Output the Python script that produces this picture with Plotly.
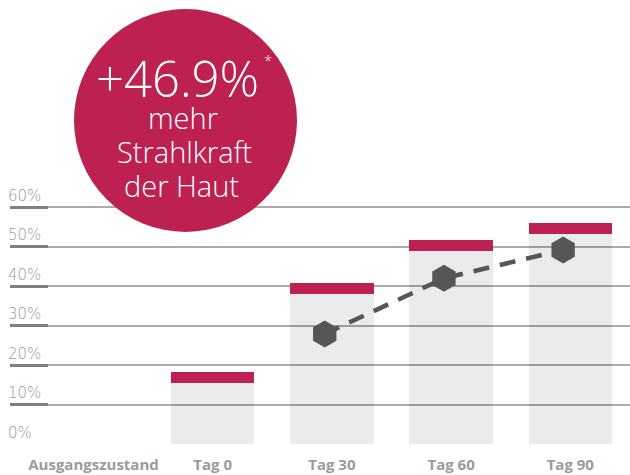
import plotly.graph_objects as go

# ---- data ----
categories = ["Ausgangszustand", "Tag 0", "Tag 30", "Tag 60", "Tag 90"]
bar_base_values = [None, 15.4, 38.0, 48.9, 53.2]   # grey column height (%)
bar_top_values = [None, 18.3, 40.8, 51.6, 55.9]    # top of crimson cap (%)
marker_values = [None, None, 27.9, 42.0, 49.2]     # hexagon line (%)
y_tick_values = [0, 10, 20, 30, 40, 50, 60]
y_tick_labels = ["0%", "10%", "20%", "30%", "40%", "50%", "60%"]
headline = "+46.9%"
headline_lines = ["mehr", "Strahlkraft", "der Haut"]

CRIMSON = "#bc2152"
DARK = "#565656"
W, H = 630, 475
ML, MR, MT, MB = 10, 0, 176, 30
PW, PH = W - ML - MR, H - MT - MB
Y_MIN = -0.25
Y_MAX = Y_MIN + PH / 3.945

idx = list(range(len(categories)))
cap_heights = [None if (t is None or b is None) else t - b
               for t, b in zip(bar_top_values, bar_base_values)]
MARKER_SHIFT = -0.06
marker_x = [i + MARKER_SHIFT for i in idx]


def px_x(px):
    return (px - ML) / PW


def px_y(py):
    return (H - MB - py) / PH


fig = go.Figure()
fig.add_trace(go.Bar(x=idx, y=bar_base_values, width=0.7,
                     marker=dict(color="rgba(0,0,0,0.08)", line_width=0),
                     hoverinfo="skip"))
fig.add_trace(go.Bar(x=idx, y=cap_heights, base=bar_base_values, width=0.7,
                     marker=dict(color=CRIMSON, line_width=0),
                     hoverinfo="skip"))
fig.add_trace(go.Scatter(x=marker_x, y=marker_values, mode="lines+markers",
                         line=dict(color=DARK, width=4.5, dash="16px,11px"),
                         marker=dict(symbol="hexagon", size=27, color=DARK,
                                     line_width=0),
                         hoverinfo="skip"))

# circle badge
fig.add_shape(type="circle", xref="paper", yref="paper",
              x0=px_x(74), x1=px_x(297), y0=px_y(232), y1=px_y(9),
              fillcolor=CRIMSON, line_width=0, layer="above")

font_family = "Open Sans"
fig.add_annotation(xref="paper", yref="paper", x=px_x(177), y=px_y(78),
                   text=headline, showarrow=False, xanchor="center", yanchor="middle",
                   font=dict(family=font_family, size=49, color="white", weight=300))
fig.add_annotation(xref="paper", yref="paper", x=px_x(268), y=px_y(60),
                   text="*", showarrow=False, xanchor="center", yanchor="middle",
                   font=dict(family=font_family, size=15, color="white", weight=300))
for txt, cx, cy in zip(headline_lines, [183, 184, 181], [117, 151, 185]):
    fig.add_annotation(xref="paper", yref="paper", x=px_x(cx), y=px_y(cy),
                       text=txt, showarrow=False, xanchor="center", yanchor="middle",
                       font=dict(family=font_family, size=29, color="white", weight=300))

fig.update_layout(
    width=W, height=H,
    margin=dict(l=ML, r=MR, t=MT, b=MB, pad=0),
    paper_bgcolor="white", plot_bgcolor="white",
    barmode="overlay", showlegend=False, bargap=0,
    xaxis=dict(range=[-0.7005, 4.501], tickvals=idx, ticktext=categories,
               showgrid=False, zeroline=False, showline=False, ticks="",
               ticklabelstandoff=9,
               tickfont=dict(family=font_family, size=15, color="#9b9b9b", weight=700),
               fixedrange=True),
    yaxis=dict(range=[Y_MIN, Y_MAX], tickvals=y_tick_values, ticktext=y_tick_labels,
               showgrid=True, gridcolor="#aaaaaa", gridwidth=1.5,
               zeroline=False, showline=False,
               ticks="inside", ticklen=38, tickwidth=2.5, tickcolor="#808080",
               ticklabelposition="inside top", ticklabelstandoff=-5,
               tickfont=dict(family="DejaVu Sans", size=15, color="#999999", weight=200),
               fixedrange=True),
)

fig.write_html("out.html", config={"displayModeBar": False},
               post_script="document.body.style.margin='0';")
